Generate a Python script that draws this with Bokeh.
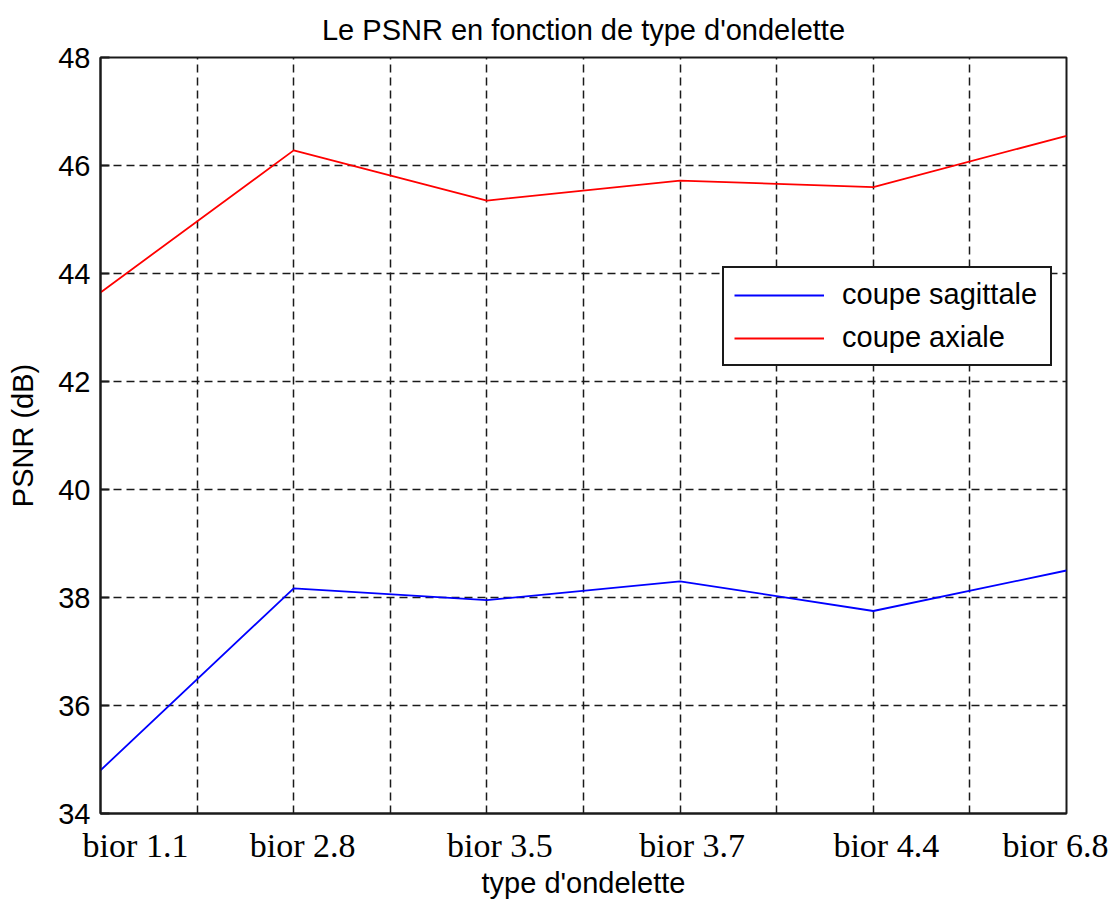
from bokeh.plotting import figure
from bokeh.models import (Legend, LegendItem, LinearAxis, FixedTicker, Grid,
                          ColumnDataSource, CustomJSTickFormatter)
from bokeh.embed import file_html
from bokeh.resources import INLINE

# ---- data ----
wavelet_pos = [1, 2, 3, 4, 5, 6]
wavelet_names = ["bior 1.1", "bior 2.8", "bior 3.5", "bior 3.7", "bior 4.4", "bior 6.8"]
psnr_sagittale = [34.80, 38.17, 37.95, 38.30, 37.75, 38.50]
psnr_axiale = [43.65, 46.28, 45.35, 45.72, 45.60, 46.55]
y_ticks = [34, 36, 38, 40, 42, 44, 46, 48]
x_grid_ticks = [1, 1.5, 2, 2.5, 3, 3.5, 4, 4.5, 5, 5.5, 6]

# horizontal placement of the hand-placed wavelet labels (px offset from their tick)
label_dx = [35, 9, 13, 12, 13, -11]

W, H = 1116, 901
BL, BR, BT, BB = 100, 50, 57, 88
px_per_unit = (W - BL - BR) / (wavelet_pos[-1] - wavelet_pos[0])
label_pos = [xv + dx / px_per_unit for xv, dx in zip(wavelet_pos, label_dx)]

SANS = "Liberation Sans"
SERIF = "Liberation Serif"
FS = "29px"
INK = "#1a1a1a"

src = ColumnDataSource(dict(x=wavelet_pos, sag=psnr_sagittale, ax=psnr_axiale))

p = figure(width=W, height=H, x_range=(1, 6), y_range=(34, 48),
           output_backend="svg", toolbar_location=None,
           min_border_left=BL, min_border_right=BR, min_border_top=BT, min_border_bottom=BB,
           x_axis_type=None, y_axis_type=None)
p.background_fill_color = "white"
p.border_fill_color = "white"
p.outline_line_color = INK
p.outline_line_width = 2

# title
p.title.text = "Le PSNR en fonction de type d'ondelette"
p.title.align = "center"
p.title.text_font = SANS
p.title.text_font_size = FS
p.title.text_font_style = "normal"
p.title.text_color = "black"
p.title.standoff = 23

# x axis: wavelet names (serif), placed under the ticks
xaxis = LinearAxis(ticker=FixedTicker(ticks=label_pos),
                   formatter=CustomJSTickFormatter(args=dict(names=wavelet_names),
                                                   code="return names[index];"))
xaxis.axis_line_color = INK
xaxis.axis_line_width = 2
xaxis.major_tick_line_color = None
xaxis.minor_tick_line_color = None
xaxis.major_tick_in = 0
xaxis.major_tick_out = 0
xaxis.major_label_text_font = SERIF
xaxis.major_label_text_font_size = "34px"
xaxis.major_label_text_color = "black"
xaxis.major_label_standoff = 13
xaxis.axis_label = "type d'ondelette"
xaxis.axis_label_text_font = SANS
xaxis.axis_label_text_font_size = FS
xaxis.axis_label_text_font_style = "normal"
xaxis.axis_label_text_color = "black"
xaxis.axis_label_standoff = 0
p.add_layout(xaxis, "below")

# y axis
yt = FixedTicker(ticks=y_ticks)
yaxis = LinearAxis(ticker=yt)
yaxis.axis_line_color = INK
yaxis.axis_line_width = 2
yaxis.major_tick_in = 9
yaxis.major_tick_out = 0
yaxis.major_tick_line_color = INK
yaxis.major_tick_line_width = 2
yaxis.minor_tick_line_color = None
yaxis.major_label_text_font = SANS
yaxis.major_label_text_font_size = FS
yaxis.major_label_text_color = "black"
yaxis.major_label_standoff = 10
yaxis.axis_label = "PSNR (dB)"
yaxis.axis_label_text_font = SANS
yaxis.axis_label_text_font_size = FS
yaxis.axis_label_text_font_style = "normal"
yaxis.axis_label_text_color = "black"
yaxis.axis_label_standoff = 16
p.add_layout(yaxis, "left")

# dashed grid
xgrid = Grid(dimension=0, ticker=FixedTicker(ticks=x_grid_ticks))
ygrid = Grid(dimension=1, ticker=yt)
for g in (xgrid, ygrid):
    g.grid_line_color = INK
    g.grid_line_width = 1.5
    g.grid_line_dash = "8 5"
    p.add_layout(g)

# lines
r_sag = p.line("x", "sag", source=src, line_color="#0000ff", line_width=1.8)
r_ax = p.line("x", "ax", source=src, line_color="#ff0000", line_width=1.8)

legend = Legend(items=[LegendItem(label="coupe sagittale", renderers=[r_sag]),
                       LegendItem(label="coupe axiale", renderers=[r_ax])],
                location=(622, 447))
legend.label_text_font = SANS
legend.label_text_font_size = FS
legend.label_text_color = "black"
legend.glyph_width = 90
legend.glyph_height = 32
legend.label_height = 32
legend.label_width = 198
legend.label_standoff = 18
legend.padding = 10
legend.spacing = 10
legend.margin = 0
legend.border_line_color = INK
legend.border_line_width = 2
legend.border_line_alpha = 1
legend.background_fill_color = "white"
legend.background_fill_alpha = 1
p.add_layout(legend, "center")

open("out.html", "w").write(file_html(p, INLINE))
